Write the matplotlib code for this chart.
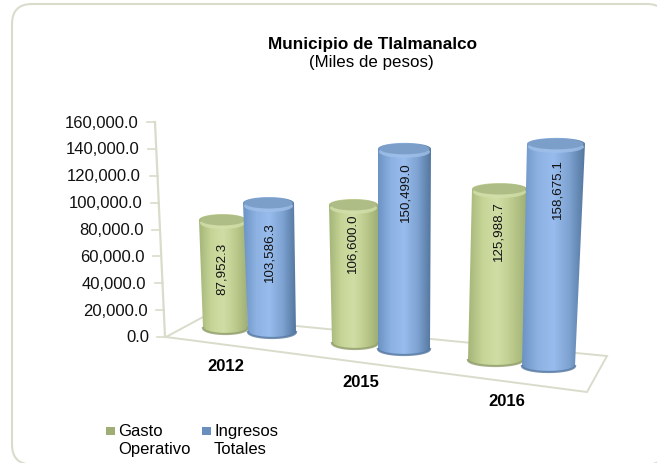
import numpy as np
import matplotlib
matplotlib.use('Agg')
import matplotlib.pyplot as plt
from matplotlib.colors import LinearSegmentedColormap
from matplotlib.patches import Ellipse, FancyBboxPatch, PathPatch, Polygon, Rectangle
from matplotlib.path import Path

plt.rcParams['font.family'] = ['Liberation Sans', 'DejaVu Sans']

# data
years = ['2012', '2015', '2016']
gasto = [87952.3, 106600.0, 125988.7]
ingresos = [103586.3, 150499.0, 158675.1]
value_ticks = [0, 20000, 40000, 60000, 80000, 100000, 120000, 140000, 160000]

# fake 3d layout in pixels (the original is a perspective excel chart)
# left/right at top, left/right at base, base centre y, px per unit
gasto_geom = [(199, 246, 203, 248, 329, 0.001228),
              (329, 378, 332, 378, 344, 0.001295),
              (472, 527, 468, 523, 361, 0.001357)]
ingresos_geom = [(243, 294, 248, 296, 333, 0.001245),
                 (378, 431, 378, 430, 350, 0.00133),
                 (527, 585, 522, 575, 367, 0.0014)]
gasto_label_drop = [48, 37, 41]
ingresos_label_drop = [48, 42, 44]
year_pos = [(226, 367), (361, 383), (507, 402)]

LINE = '#d9dccb'
green_cm = LinearSegmentedColormap.from_list('g', ['#a4b578', '#c6d596', '#d0dea6', '#bccb8c', '#9fae74'])
blue_cm = LinearSegmentedColormap.from_list('b', ['#6b93c4', '#8db2e2', '#97bced', '#7ea3d2', '#54779f'])
green_cap = '#aebd86'
blue_cap = '#7c9fc9'
green_band = '#d3dfaa'
blue_band = '#9fc0ea'
green_foot = '#8f9c6a'
blue_foot = '#56779f'

fig = plt.figure(figsize=(6.57, 4.64), dpi=100)
ax = fig.add_axes([0, 0, 1, 1])
ax.set_xlim(0, 657)
ax.set_ylim(464, 0)
ax.axis('off')

# outer frame, runs off the right and bottom of the picture
ax.add_patch(FancyBboxPatch((12, 5), 655, 460.5, boxstyle='round,pad=0,rounding_size=20',
                            fc='white', ec=LINE, lw=1.5))

ax.text(372, 44.5, 'Municipio de Tlalmanalco', ha='center', va='center', fontsize=12.3, fontweight='bold')
ax.text(371, 63, '(Miles de pesos)', ha='center', va='center', fontsize=12.2)

# value axis leans forward towards the floor
y0, y1 = 338, 123
x0, x1 = 165, 155
lab0, lab1 = 149, 138


def axis_y(v):
    return y0 + (y1 - y0) * v / 160000


def axis_x(v, a, b):
    return a + (b - a) * v / 160000


ax.plot([x0, x1], [y0, y1], color=LINE, lw=1.6, zorder=2)
for v in value_ticks:
    ax.plot([axis_x(v, x0, x1) - 8, axis_x(v, x0, x1)], [axis_y(v)] * 2, color=LINE, lw=1.2, zorder=2)
    ax.text(axis_x(v, lab0, lab1), axis_y(v), f'{v:,.1f}', ha='right', va='center', fontsize=12, color='#111111')

# floor
floor = [(166, 338), (587, 393), (607, 357), (203, 318)]
ax.add_patch(Polygon(floor, closed=True, fc='white', ec=LINE, lw=1.4, zorder=2))


def cylinder(value, geom, cmap, cap, band, foot, z):
    tl, tr, bl, br, base, k = geom
    top = base - value * k
    rx_b = (br - bl) / 2
    rx_t = (tr - tl) / 2
    ry = 6
    t = np.linspace(np.pi, 0, 30)
    arc_x = (bl + br) / 2 + rx_b * np.cos(t)
    arc_y = base + ry * np.sin(t)
    t2 = np.linspace(0, np.pi, 30)
    top_x = (tl + tr) / 2 + rx_t * np.cos(t2)
    top_y = top - ry * np.sin(t2)
    verts = list(zip(top_x, top_y)) + list(zip(arc_x, arc_y)) + [(top_x[0], top_y[0])]
    body = PathPatch(Path(verts), fc='none', ec='none', zorder=z)
    ax.add_patch(body)
    grad = np.linspace(0, 1, 256).reshape(1, -1)
    im = ax.imshow(grad, cmap=cmap, aspect='auto', zorder=z,
                   extent=(min(tl, bl), max(tr, br), base + ry, top - ry))
    im.set_clip_path(body)
    # light band under the cap, clipped to the body
    b = Ellipse(((tl + tr) / 2, top + 3), 2 * rx_t - 2, 2 * ry, fc=band, ec='none', alpha=0.8, zorder=z + 0.1)
    ax.add_patch(b)
    b.set_clip_path(body)
    # darker rim at the foot, then the cap
    ax.plot(arc_x, arc_y, color=foot, lw=1.6, alpha=0.8, zorder=z + 0.1)
    ax.add_patch(Ellipse(((tl + tr) / 2, top), 2 * rx_t - 3, 2 * ry - 1, fc=cap, ec='none', zorder=z + 0.2))
    ax.set_xlim(0, 657)
    ax.set_ylim(464, 0)
    return top


for i in range(len(years)):
    z = 3 + i
    top = cylinder(gasto[i], gasto_geom[i], green_cm, green_cap, green_band, green_foot, z)
    cx = (gasto_geom[i][0] + gasto_geom[i][1]) / 2 - 1
    ax.text(cx, top + gasto_label_drop[i], f'{gasto[i]:,.1f}', rotation=90, ha='center', va='center',
            fontsize=9.6, color='#111111', zorder=z + 0.6)
    top = cylinder(ingresos[i], ingresos_geom[i], blue_cm, blue_cap, blue_band, blue_foot, z + 0.3)
    cx = (ingresos_geom[i][0] + ingresos_geom[i][1]) / 2 + 1
    ax.text(cx, top + ingresos_label_drop[i], f'{ingresos[i]:,.1f}', rotation=90, ha='center', va='center',
            fontsize=9.6, color='#111111', zorder=z + 0.6)
    ax.text(year_pos[i][0], year_pos[i][1], years[i], ha='center', va='center', fontsize=12, fontweight='bold')

# legend
ax.add_patch(Rectangle((106, 428), 9, 8, fc='#9fae74', ec='none'))
ax.text(118, 432, 'Gasto', ha='left', va='center', fontsize=12)
ax.text(118, 450, 'Operativo', ha='left', va='center', fontsize=12)
ax.add_patch(Rectangle((202, 428), 9, 8, fc='#6b8fbd', ec='none'))
ax.text(214, 432, 'Ingresos', ha='left', va='center', fontsize=12)
ax.text(214, 450, 'Totales', ha='left', va='center', fontsize=12)

fig.savefig('out.png', dpi=100)
